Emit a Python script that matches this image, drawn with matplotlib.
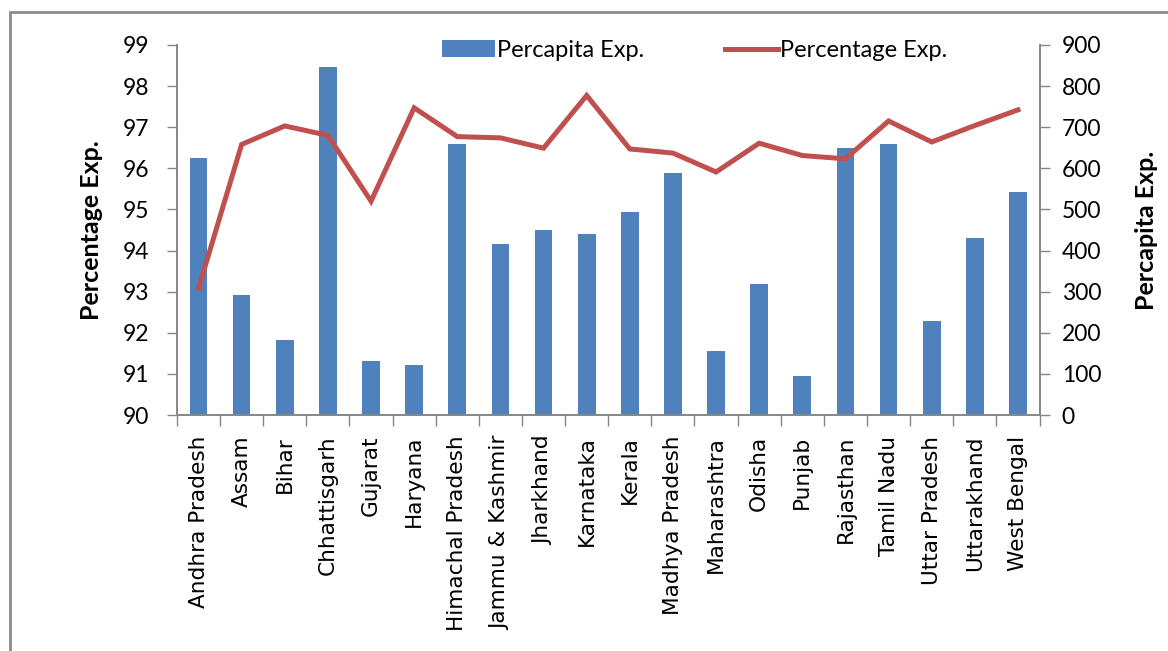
import numpy as np
import matplotlib.pyplot as plt
from matplotlib.patches import Rectangle

plt.rcParams['font.family'] = ['Lato', 'DejaVu Sans']

states = ['Andhra Pradesh', 'Assam', 'Bihar', 'Chhattisgarh', 'Gujarat', 'Haryana',
          'Himachal Pradesh', 'Jammu & Kashmir', 'Jharkhand', 'Karnataka', 'Kerala',
          'Madhya Pradesh', 'Maharashtra', 'Odisha', 'Punjab', 'Rajasthan',
          'Tamil Nadu', 'Uttar Pradesh', 'Uttarakhand', 'West Bengal']
percapita = [624, 291, 182, 847, 131, 122, 660, 415, 451, 439, 493,
             588, 155, 319, 96, 650, 660, 229, 431, 543]
percentage = [93.08, 96.58, 97.03, 96.80, 95.20, 97.47, 96.77, 96.74, 96.49, 97.77,
              96.47, 96.37, 95.91, 96.61, 96.31, 96.23, 97.15, 96.64, 97.04, 97.42]

bar_col = '#4F81BD'
line_col = '#C0504D'
grey = '#868686'

fig = plt.figure(figsize=(11.68, 6.51), dpi=100)
ax = fig.add_axes([0.1515, 0.3625, 0.7385, 0.5685])
ax2 = ax.twinx()

x = np.arange(len(states))
bars = ax2.bar(x, percapita, width=0.41, color=bar_col, label='Percapita Exp.')
line, = ax.plot(x, percentage, color=line_col, lw=3.6, solid_joinstyle='miter',
                label='Percentage Exp.')

# line on top of the bars
ax.set_zorder(ax2.get_zorder() + 1)
ax.patch.set_visible(False)

ax.set_xlim(-0.5, len(states) - 0.5)
ax.set_ylim(90, 99)
ax.set_yticks(np.arange(90, 100, 1))
ax2.set_ylim(0, 900)
ax2.set_yticks(np.arange(0, 1000, 100))

ax.set_xticks(x)
ax.set_xticklabels(states, rotation=90, fontsize=15.6, family='DejaVu Sans')
ax.set_xticks(np.arange(-0.5, len(states), 1), minor=True)
ax.tick_params(axis='x', which='major', length=0, pad=15)
ax.tick_params(axis='x', which='minor', length=8, color=grey, width=1)
ax.tick_params(axis='y', labelsize=16.5, length=7, color=grey, width=1, pad=13)
ax2.tick_params(axis='y', labelsize=16.5, length=7, color=grey, width=1, pad=9)

for a in (ax, ax2):
    a.spines['top'].set_visible(False)
    for s in ('left', 'right', 'bottom'):
        a.spines[s].set_color(grey)
        a.spines[s].set_linewidth(1.2)

ax.set_ylabel('Percentage Exp.', fontsize=18, fontweight='bold', labelpad=14)
ax2.set_ylabel('Percapita Exp.', fontsize=18, fontweight='bold', labelpad=24,
               rotation=90)

ax.legend([bars, line], ['Percapita Exp.', 'Percentage Exp.'], loc='center',
          bbox_to_anchor=(0.6, 0.985), ncol=2, frameon=False, fontsize=17,
          handlelength=2.25, handletextpad=0.1, columnspacing=3.4)

# chart area border
fig.patches.append(Rectangle((10 / 1168, -0.1), 1.2, 1 - 12 / 651 + 0.1,
                             transform=fig.transFigure, fill=False,
                             edgecolor='#8c8c8c', lw=2, clip_on=False))

fig.savefig('out.png', dpi=100)
